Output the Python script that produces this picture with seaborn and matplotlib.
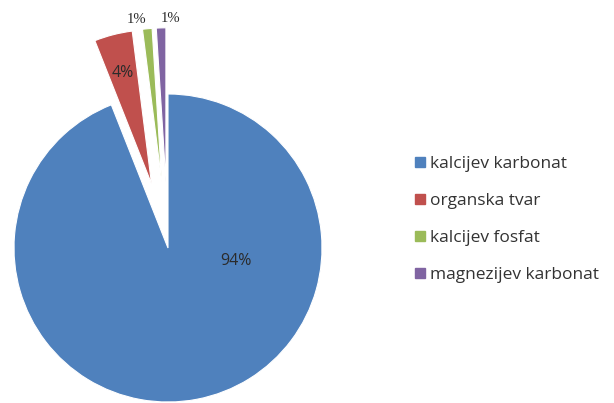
import numpy as np
import matplotlib
matplotlib.use("Agg")
import matplotlib.pyplot as plt
from matplotlib.lines import Line2D
import seaborn as sns

# ======================================================
# DATA
# ======================================================

categories = ["kalcijev karbonat", "organska tvar", "kalcijev fosfat", "magnezijev karbonat"]
shares = [94, 4, 1, 1]
explode = [0.0, 0.43, 0.43, 0.43]
colors = ["#4F81BD", "#C0504D", "#9BBB59", "#8064A2"]

# ======================================================
# CONFIGURATION
# ======================================================

sns.set_theme(style="white")
plt.rcParams["font.family"] = ["Open Sans", "DejaVu Sans"]

W, H = 614, 403
CENTER = (168, 155)
RADIUS = 154

fig = plt.figure(figsize=(W / 100, H / 100), dpi=100)
ax = fig.add_axes([0, 0, 1, 1])


def pct_label(p):
    return f"{p:.0f}%" if p >= 2 else ""


# explode offsets are in data units here, so scale by the radius
wedges, texts, autotexts = ax.pie(
    shares,
    explode=[e * RADIUS for e in explode],
    colors=colors,
    startangle=90,
    counterclock=False,
    center=CENTER,
    radius=RADIUS,
    labels=["", "", "1%", "1%"],
    labeldistance=1.06,
    autopct=pct_label,
    pctdistance=0.74,
    wedgeprops=dict(edgecolor="white", linewidth=0.8),
    textprops=dict(fontsize=11.5, color="#2b2b2b"),
)

# the big label sits to the right of the centre, as in the source
autotexts[0].set_position((CENTER[0] + 0.45 * RADIUS * np.cos(np.radians(-10.7)),
                           CENTER[1] + 0.45 * RADIUS * np.sin(np.radians(-10.7))))
autotexts[0].set_ha("center")

texts[2].set_ha("right")
texts[3].set_ha("left")
for t in texts:
    t.set_va("center")
    t.set_fontfamily(["Liberation Serif", "DejaVu Serif"])
    t.set_fontsize(10.5)

ax.set_xlim(0, W)
ax.set_ylim(0, H)
ax.set_aspect("equal")
ax.axis("off")

# ======================================================
# LEGEND
# ======================================================

handles = [
    Line2D([0], [0], marker="s", linestyle="none", markersize=7.5,
           markerfacecolor=c, markeredgecolor=c)
    for c in colors
]

fig.legend(
    handles,
    categories,
    loc="upper left",
    bbox_to_anchor=(406 / W, 1 - 147 / H),
    frameon=False,
    fontsize=12.5,
    labelspacing=1.2,
    handlelength=0.6,
    handletextpad=0.3,
    borderpad=0,
    labelcolor="#333333",
)

fig.savefig("out.png", dpi=100)
